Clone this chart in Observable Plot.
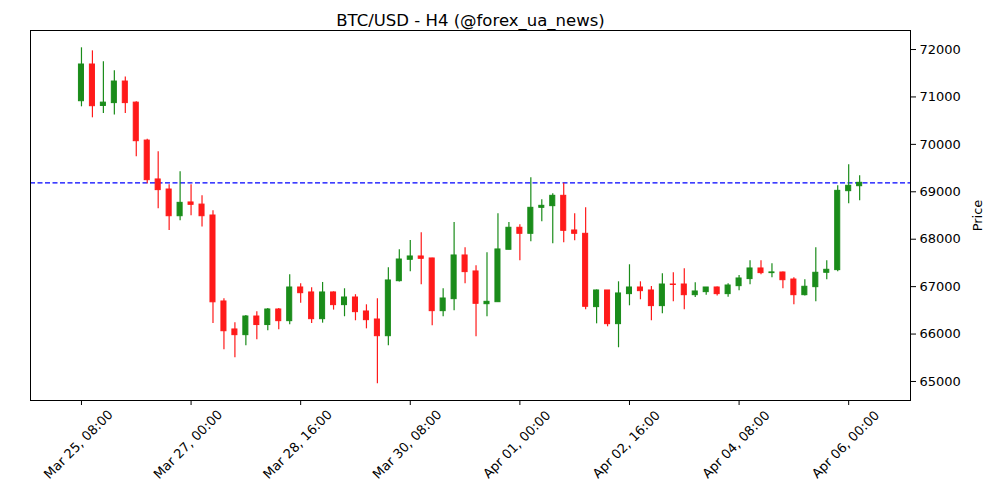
<!DOCTYPE html>
<html>
<head>
<meta charset="utf-8">
<script src="https://cdn.jsdelivr.net/npm/d3@7"></script>
<script src="https://cdn.jsdelivr.net/npm/@observablehq/plot@0.6"></script>
<style>
  html, body { margin: 0; padding: 0; background: #fff; }
  #chart { width: 1000px; height: 500px; }
</style>
</head>
<body>
<div id="chart"></div>
<script>
// H4 candles, starting 2024-03-25 08:00 UTC
const startTime = "2024-03-25T08:00:00Z";
const stepHours = 4;

const opens  = [70910,71684,70810,70870,71325,70880,70080,69260,69048,68485,
                68775,68730,68500,66687,66097,65977,66370,66190,66518,66272,
                66982,66877,66314,66877,66610,66771,66476,66307,65955,67115,
                67566,67636,67594,66483,66736,67657,67320,66630,66672,67777,
                68241,68114,68662,68697,68915,68184,68114,66568,66919,66209,
                66842,66982,66919,66589,67045,67045,66820,66884,66982,66842,
                67010,67159,67383,67285,67298,67150,66820,66989,67292,67348,
                69013,69118];
const highs  = [72036,71972,71740,71550,71420,70900,70110,69845,69150,69420,
                69150,68915,68600,66745,66240,66390,66470,66540,66540,67250,
                67060,66975,67088,66890,66955,66830,66617,66745,67397,67777,
                67973,68135,67600,66955,68353,67820,67440,67714,68536,68353,
                68304,69295,68831,68957,69180,68536,68662,66930,66919,67102,
                67461,67102,67003,67271,67292,67377,67081,66982,66990,67060,
                67235,67545,67545,67482,67310,67187,67144,67820,67545,69126,
                69569,69337];
const lows   = [70792,70560,70650,70620,70650,69740,69170,68640,68185,68390,
                68495,68260,66225,65670,65500,65755,65880,66070,66090,66196,
                66652,66223,66230,66505,66365,66280,66110,64950,65753,67100,
                67313,67040,66175,66364,66490,67060,65942,66364,66672,67777,
                67545,67946,68367,67903,67925,67967,66511,66216,66153,65711,
                66596,66723,66280,66427,66680,66511,66771,66820,66800,66778,
                66912,67039,67250,67187,66955,66617,66800,66680,67144,67313,
                68746,68810];
const closes = [71684,70805,70880,71325,70870,70067,69245,69035,68485,68767,
                68725,68485,66670,66060,65977,66370,66190,66518,66272,66982,
                66862,66314,66877,66610,66771,66462,66293,65955,67130,67572,
                67636,67587,66483,66750,67657,67306,66638,66680,67784,68241,
                68114,68662,68704,68915,68177,68114,66575,66919,66209,66856,
                66982,66905,66589,67045,67035,66820,66898,66982,66842,67024,
                67172,67383,67285,67300,67136,66820,66997,67292,67355,69020,
                69126,69189];

const tickDates = ["2024-03-25T08:00:00Z","2024-03-27T00:00:00Z","2024-03-28T16:00:00Z",
                   "2024-03-30T08:00:00Z","2024-04-01T00:00:00Z","2024-04-02T16:00:00Z",
                   "2024-04-04T08:00:00Z","2024-04-06T00:00:00Z"];
const yTicks = [65000,66000,67000,68000,69000,70000,71000,72000];
const titleText = "BTC/USD - H4 (@forex_ua_news)";
const yLabel = "Price";

const STEP = stepHours * 3600e3;
const t0 = new Date(startTime).getTime();
const candles = opens.map((o, i) => ({
  t: new Date(t0 + i * STEP),
  open: o, high: highs[i], low: lows[i], close: closes[i],
  up: closes[i] >= o
}));
const lastClose = closes[closes.length - 1];
const upColor = "#1a8c1a", downColor = "#ff1a1a";
const halfBody = 0.23 * STEP;
const fmt = d3.utcFormat("%b %d, %H:%M");
const ticks = tickDates.map(s => new Date(s));

const chart = Plot.plot({
  width: 1000,
  height: 500,
  marginLeft: 30,
  marginRight: 90,
  marginTop: 30,
  marginBottom: 100,
  style: { fontFamily: "DejaVu Sans", fontSize: "13px", color: "black", background: "white" },
  x: { type: "utc", domain: [new Date(t0 - 4.65 * STEP), new Date(t0 + 75.64 * STEP)] },
  y: { domain: [64599, 72401] },
  marks: [
    Plot.ruleY([lastClose], { stroke: "#0000ff", strokeWidth: 1.2, strokeDasharray: "5,2.5" }),
    Plot.ruleX(candles, { x: "t", y1: "low", y2: "high", stroke: d => d.up ? upColor : downColor, strokeWidth: 1.2 }),
    Plot.rect(candles, {
      x1: d => new Date(d.t.getTime() - halfBody),
      x2: d => new Date(d.t.getTime() + halfBody),
      y1: "open", y2: "close",
      fill: d => d.up ? upColor : downColor,
      stroke: d => d.up ? upColor : downColor,
      strokeWidth: 1
    }),
    Plot.frame({ stroke: "black", strokeWidth: 1 }),
    Plot.axisY({ anchor: "right", ticks: yTicks, tickFormat: d => String(d), tickSize: 5, tickPadding: 4, label: null, fontSize: 13 }),
    Plot.axisX({ ticks: ticks, tickFormat: () => "", tickSize: 5, label: null }),
    Plot.text(ticks, { x: d => d, text: d => fmt(d), frameAnchor: "bottom", dy: 47, rotate: -45, textAnchor: "middle", fontSize: 13 }),
    Plot.text([titleText], { frameAnchor: "top", dy: -16, text: d => d, fontSize: 16.5, textAnchor: "middle" }),
    Plot.text([yLabel], { frameAnchor: "right", dx: 67, rotate: -90, text: d => d, fontSize: 13, textAnchor: "middle" })
  ]
});
document.getElementById("chart").appendChild(chart);
</script>
</body>
</html>
